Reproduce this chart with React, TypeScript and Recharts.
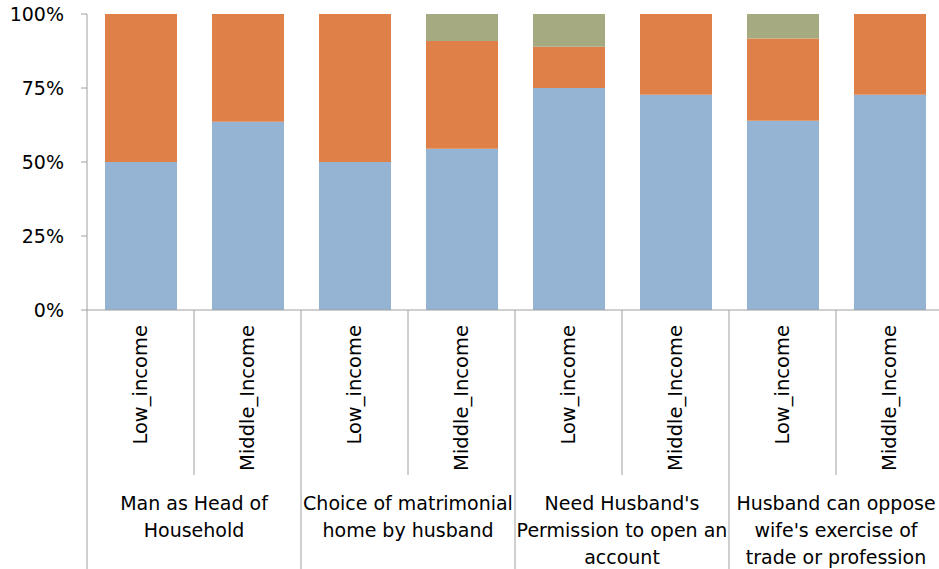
import React from 'react';
import { BarChart, Bar, XAxis, YAxis } from 'recharts';

// categories: two income bars per legal provision
const incomeLabels = [
  'Low_income', 'Middle_Income',
  'Low_income', 'Middle_Income',
  'Low_income', 'Middle_Income',
  'Low_income', 'Middle_Income',
];

const groupLines = [
  ['Man as Head of', 'Household'],
  ['Choice of matrimonial', 'home by husband'],
  ["Need Husband's", 'Permission to open an', 'account'],
  ['Husband can oppose', "wife's exercise of", 'trade or profession'],
];

// share of responses (%)
const blueValues = [50, 63.6, 50, 54.5, 75, 72.7, 63.9, 72.7];
const orangeValues = [50, 36.4, 50, 36.4, 13.9, 27.3, 27.8, 27.3];
const greenValues = [0, 0, 0, 9.1, 11.1, 0, 8.3, 0];

const yTicks = [0, 25, 50, 75, 100];

const data = incomeLabels.map((label, i) => ({
  id: `c${i}`,
  label,
  blue: blueValues[i],
  orange: orangeValues[i],
  green: greenValues[i],
}));

const FONT = "'DejaVu Sans', sans-serif";
const GRID = '#A0A0A0';
const BAND = 107;
const BOTTOM = 569;

const CategoryTick = (props: any) => {
  const { x, y, payload } = props;
  const i = payload.index;
  const half = BAND / 2;
  const rightIsGroupEdge = i % 2 === 1;
  return (
    <g>
      {i === 0 && (
        <line x1={x - half} y1={y} x2={x - half} y2={BOTTOM} stroke={GRID} strokeWidth={1} />
      )}
      <line
        x1={x + half}
        y1={y}
        x2={x + half}
        y2={rightIsGroupEdge ? BOTTOM : y + 165}
        stroke={GRID}
        strokeWidth={1}
      />
      <text
        x={x}
        y={y + 15}
        transform={`rotate(-90, ${x}, ${y + 15})`}
        textAnchor="end"
        dominantBaseline="central"
        fontFamily={FONT}
        fontSize={19.5}
        fill="#000"
      >
        {incomeLabels[i]}
      </text>
      {i % 2 === 0 && (
        <text
          x={x + half}
          y={y + 200}
          textAnchor="middle"
          fontFamily={FONT}
          fontSize={19}
          fill="#000"
        >
          {groupLines[i / 2].map((line, k) => (
            <tspan key={k} x={x + half} dy={k === 0 ? 0 : 27}>
              {line}
            </tspan>
          ))}
        </text>
      )}
    </g>
  );
};

const App = () => {
  return (
    <div style={{ position: 'absolute', left: 0, top: 0, width: 939, height: 569, overflow: 'hidden', background: '#fff' }}>
      <BarChart
        width={945}
        height={569}
        data={data}
        margin={{ top: 14, right: 2, left: 0, bottom: 0 }}
      >
        <XAxis
          dataKey="id"
          height={259}
          interval={0}
          tickLine={false}
          tickSize={0}
          tickMargin={0}
          axisLine={{ stroke: GRID }}
          tick={<CategoryTick />}
        />
        <YAxis
          width={87}
          domain={[0, 100]}
          ticks={yTicks}
          tickFormatter={(v: number) => `${v}%`}
          tickSize={6}
          tickMargin={17}
          axisLine={{ stroke: GRID }}
          tickLine={{ stroke: GRID }}
          tick={{ fontFamily: FONT, fontSize: 19, fill: '#000' }}
        />
        <Bar dataKey="blue" stackId="s" fill="#95B3D2" barSize={72} isAnimationActive={false} />
        <Bar dataKey="orange" stackId="s" fill="#DE8047" barSize={72} isAnimationActive={false} />
        <Bar dataKey="green" stackId="s" fill="#A5AA80" barSize={72} isAnimationActive={false} />
      </BarChart>
    </div>
  );
};

export default App;
